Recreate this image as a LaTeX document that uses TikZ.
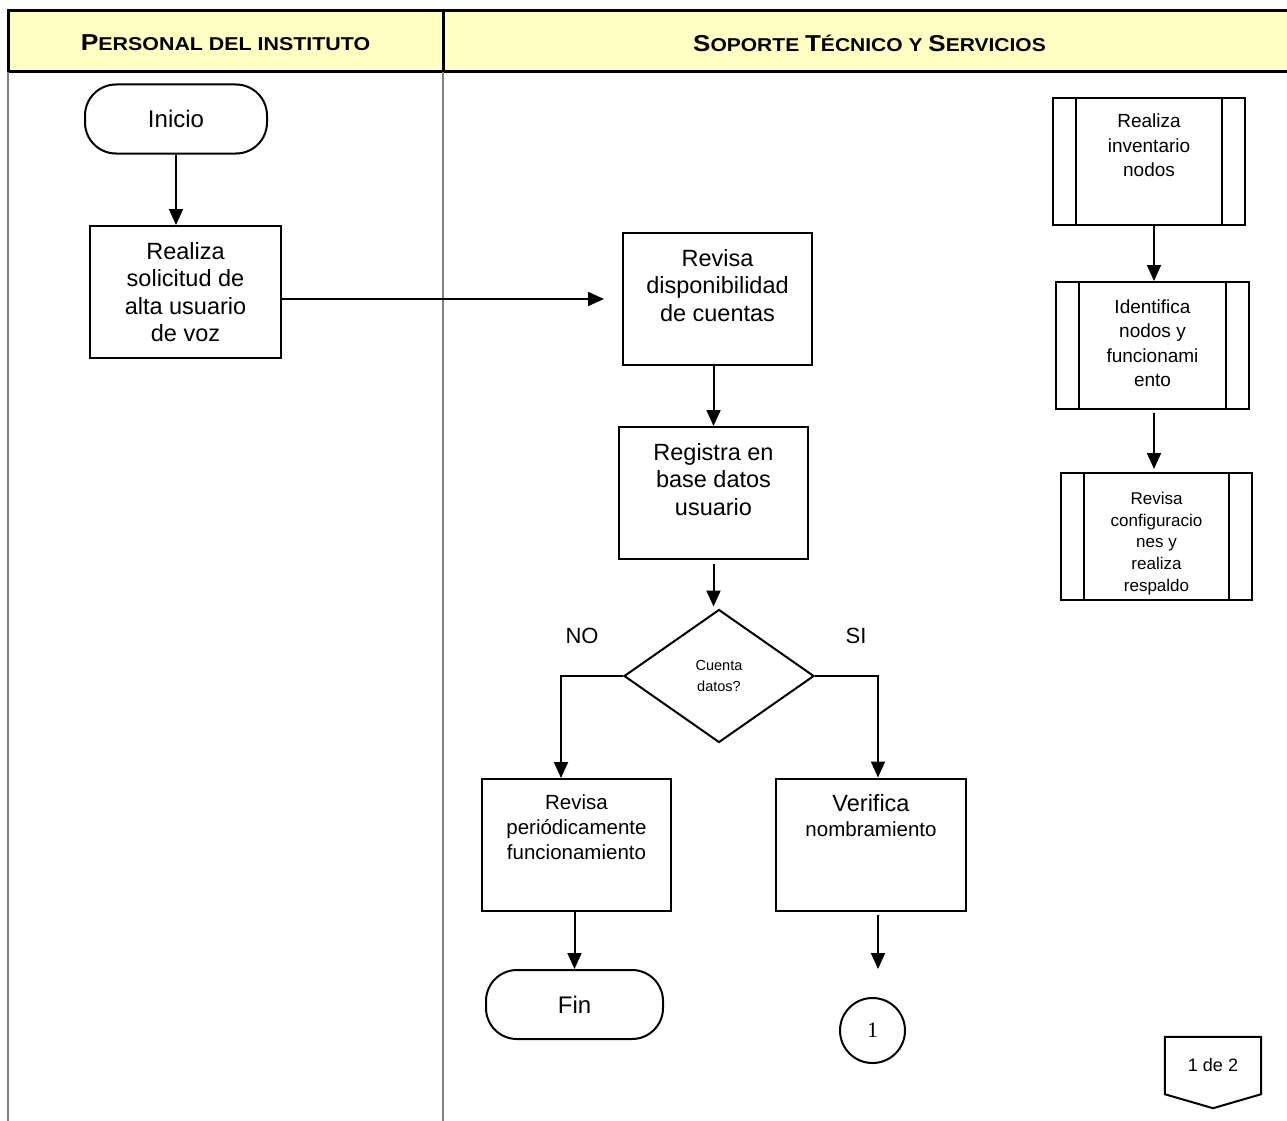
\documentclass[tikz,border=0pt]{standalone}
\usepackage{fontspec}
\setmainfont{Liberation Sans}
\newfontfamily\serifnum{Liberation Serif}
\usetikzlibrary{arrows.meta,shapes.geometric}
\definecolor{headfill}{HTML}{FFFFC4}
\definecolor{lanegray}{HTML}{808080}
\newcommand{\fs}[2]{\fontsize{#1}{#2}\selectfont}
\newcommand{\hdcaps}[2]{{\fs{23}{26}#1}{\fs{18.6}{26}#2}}
\tikzset{
  every node/.style={inner sep=0pt},
  lane/.style={draw=lanegray, line width=2pt},
  frame/.style={draw=black, line width=3pt},
  box/.style={draw, line width=2pt, minimum width=#1, minimum height=132pt},
  box/.default=190pt,
  sub/.style={draw, line width=2pt, minimum width=#1, minimum height=127pt},
  sub/.default=192pt,
  term/.style={draw, line width=2pt, rounded corners=31pt, minimum width=#1, minimum height=69pt, font=\fs{24}{28}},
  term/.default=180pt,
  txt/.style={anchor=north, align=center, font=\fs{23.5}{27.5}},
  arr/.style={line width=2pt, -{Triangle[length=16pt,width=14pt]}},
}
% inner bars of a predefined-process box
\newcommand{\subbars}[1]{%
  \draw[line width=2pt] ([xshift=24pt]#1.north west) -- ([xshift=24pt]#1.south west);
  \draw[line width=2pt] ([xshift=-24pt]#1.north east) -- ([xshift=-24pt]#1.south east);}
\begin{document}
\begin{tikzpicture}[x=1pt,y=-1pt]
\useasboundingbox (0,0) rectangle (1287,1121);

% swimlane header
\fill[headfill] (8,11) rectangle (1287,72);
\draw[frame] (1287,11) -- (8,11) -- (8,72) -- (1287,72);
\draw[frame] (443,11) -- (443,72);
\node (h1) at (225.5,43) {\scalebox{1.15}[1]{\bfseries\hdcaps{P}{ERSONAL DEL INSTITUTO}}};
\node (h2) at (869.5,43) {\scalebox{1.13}[1]{\bfseries\hdcaps{S}{OPORTE }\hdcaps{T}{ÉCNICO Y }\hdcaps{S}{ERVICIOS}}};

% lane separators
\draw[lane] (8,72) -- (8,1121);
\draw[lane] (443,72) -- (443,1121);

% ---- Personal del instituto ----
\node[term=182pt] (inicio) at (176,119) {Inicio};
\node[box=191pt] (sol) at (185.5,292) {};
\node[txt] (tsol) at ([yshift=-17pt]sol.north) {Realiza\\solicitud de\\alta usuario\\de voz};

% ---- Soporte tecnico: main flow ----
\node[box=189pt] (disp) at (717.5,299) {};
\node[txt] (tdisp) at ([yshift=-17pt]disp.north) {Revisa\\disponibilidad\\de cuentas};

\node[box=189pt] (reg) at (713.5,493) {};
\node[txt] (treg) at ([yshift=-17pt]reg.north) {Registra en\\base datos\\usuario};

\node[diamond, draw, line width=2pt, minimum width=190pt, minimum height=133pt,
      align=center, font=\fs{14.5}{21}] (dec) at (719,676) {Cuenta\\datos?};
\node[font=\fs{22}{26}] (no) at (582,636) {NO};
\node[font=\fs{22}{26}] (si) at (856,636) {SI};
\coordinate (nocorner) at (561,676);
\coordinate (sicorner) at (878,676);

\node[box=189pt] (per) at (576.5,845) {};
\node[txt, font=\fs{20.5}{25}] (tper) at ([yshift=-16pt]per.north) {Revisa\\periódicamente\\funcionamiento};

\node[box=190pt] (ver) at (871,844.5) {};
\node[txt] (tver) at ([yshift=-17pt]ver.north) {Verifica\\[-3pt]{\fs{20.5}{25}nombramiento}};

\node[term=177pt] (fin) at (574.5,1004.5) {Fin};

\node[circle, draw, line width=2pt, minimum size=65pt, font=\serifnum\fs{22}{24}] (c1) at (872.5,1030.5) {1};

% page connector
\node[minimum width=96pt, minimum height=57pt, font=\fs{18}{20}] (pg) at (1213,1065.5) {1 de 2};
\draw[line width=2pt] (pg.south west) -- (pg.north west) -- (pg.north east) -- (pg.south east)
  -- ([yshift=-14pt]pg.south) -- cycle;

% ---- Soporte tecnico: inventory flow ----
\node[sub=192pt] (inv) at (1149,161.5) {};
\subbars{inv}
\node[txt, font=\fs{19}{24.5}] (tinv) at ([yshift=-17pt]inv.north) {Realiza\\inventario\\nodos};

\node[sub=193pt] (ide) at (1152.5,345.5) {};
\subbars{ide}
\node[txt, font=\fs{19}{24.5}] (tide) at ([yshift=-18.5pt]ide.north) {Identifica\\nodos y\\funcionami\\ento};

\node[sub=191pt] (cfg) at (1156.5,536.5) {};
\subbars{cfg}
\node[txt, font=\fs{17}{21.7}] (tcfg) at ([yshift=-20pt]cfg.north) {Revisa\\configuracio\\nes y\\realiza\\respaldo};

% ---- connectors ----
\draw[arr] (inicio.south) -- (inicio.south |- sol.north);
\draw[arr, shorten >=18pt] (sol.east |- disp.west) -- (disp.west);
\draw[arr] (reg.north |- disp.south) -- (reg.north);
\draw[arr, shorten <=4pt, shorten >=2pt] (reg.south) -- (reg.south |- dec.north);
\draw[arr] (dec.west) -- (nocorner) -- (nocorner |- per.north);
\draw[arr] (dec.east) -- (sicorner) -- (sicorner |- ver.north);
\draw[arr] (per.south -| fin.north) -- (fin.north);
\draw[arr, shorten <=3pt, shorten >=28pt] (ver.south -| sicorner) -- (sicorner |- c1.north);
\draw[arr] (inv.south -| 1154,0) -- (ide.north -| 1154,0);
\draw[arr, shorten <=3pt, shorten >=3pt] (ide.south -| 1154,0) -- (cfg.north -| 1154,0);

\end{tikzpicture}
\end{document}
